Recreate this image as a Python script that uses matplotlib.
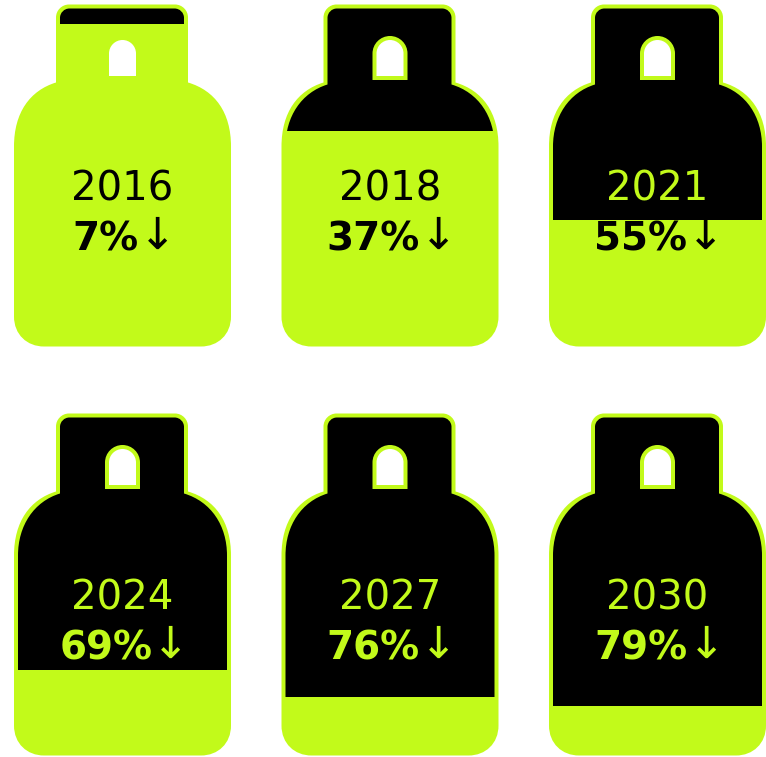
"""
Gas bottles filled with black down to a level, one bottle per year
"""
import matplotlib
matplotlib.use('Agg')
import matplotlib.pyplot as plt
from matplotlib.path import Path
from matplotlib.patches import PathPatch, Rectangle

LIME = '#c2fa1a'

years = ['2016', '2018', '2021', '2024', '2027', '2030']
percents = ['7%', '37%', '55%', '69%', '76%', '79%']
# how far down the bottle the black reaches (% of height)
black_levels = [5.6, 37.0, 63.0, 75.0, 83.0, 85.5]
year_colors = ['black', 'black', LIME, LIME, LIME, LIME]
pct_colors = ['black', 'black', 'black', LIME, LIME, LIME]


def bottle_path(ox, oy, inset=0.0):
    """Bottle outline, 217 x 342 px, top-left corner at ox, oy"""
    i = inset
    r = 13 - 0.9 * i  # neck corner
    k = 0.45 * r
    verts = [
        (42 + i + r, i), (174 - i - r, i),
        (174 - i - k, i), (174 - i, i + k), (174 - i, i + r),
        (174 - i, 78 + i / 2),
        (201 - i, 86 + i / 2), (217 - i, 108 + i), (217 - i, 142),
        (217 - i, 312),
        (217 - i, 330), (204, 342 - i), (187, 342 - i),
        (30, 342 - i),
        (13, 342 - i), (i, 330), (i, 312),
        (i, 142),
        (i, 108 + i), (16 + i, 86 + i / 2), (42 + i, 78 + i / 2),
        (42 + i, i + r),
        (42 + i, i + k), (42 + i + k, i), (42 + i + r, i),
    ]
    L, C = Path.LINETO, Path.CURVE4
    codes = [Path.MOVETO, L, C, C, C, L, C, C, C, L, C, C, C, L, C, C, C, L, C, C, C, L, C, C, C]
    return Path([(ox + x, oy + y) for x, y in verts], codes)


def hole_path(ox, oy, x0, x1, y0, y1):
    """Rectangle with a round top, the hole of the handle"""
    r = (x1 - x0) / 2
    k = 0.5523 * r
    verts = [
        (x0, y1), (x0, y0 + r),
        (x0, y0 + r - k), (x0 + r - k, y0), (x0 + r, y0),
        (x0 + r + k, y0), (x1, y0 + r - k), (x1, y0 + r),
        (x1, y1), (x0, y1),
    ]
    L, C = Path.LINETO, Path.CURVE4
    codes = [Path.MOVETO, L, C, C, C, C, C, C, L, Path.CLOSEPOLY]
    return Path([(ox + x, oy + y) for x, y in verts], codes)


fig = plt.figure(figsize=(7.66, 7.57), dpi=100)
ax = fig.add_axes([0, 0, 1, 1])
ax.set_xlim(0, 766)
ax.set_ylim(757, 0)
ax.axis('off')

col_x = [14, 281.5, 549]
row_y = [4.5, 413.5]

fig.canvas.draw()
renderer = fig.canvas.get_renderer()

for n, year in enumerate(years):
    ox = col_x[n % 3]
    oy = row_y[n // 3]
    cx = ox + 108.5

    ax.add_patch(PathPatch(bottle_path(ox, oy), fc=LIME, ec='none'))

    # black part, cut off at the level
    black = PathPatch(bottle_path(ox, oy, inset=4), fc='black', ec='none')
    ax.add_patch(black)
    clip = Rectangle((ox, oy), 217, 342 * black_levels[n] / 100, transform=ax.transData)
    black.set_clip_path(clip)

    # handle hole
    ax.add_patch(PathPatch(hole_path(ox, oy, 91, 126, 31.5, 75.5), fc=LIME, ec='none'))
    ax.add_patch(PathPatch(hole_path(ox, oy, 95, 122, 35.5, 71.5), fc='white', ec='none'))

    ax.text(cx, oy + 196, year, color=year_colors[n], fontsize=29,
            ha='center', va='baseline', family='DejaVu Sans')

    # percent and arrow are centered together, the arrow is not bold
    pct = ax.text(0, oy + 246, percents[n], color=pct_colors[n], fontsize=28,
                  fontweight='bold', ha='left', va='baseline', family='DejaVu Sans')
    arrow = ax.text(0, oy + 244, '↓', color=pct_colors[n], fontsize=32,
                    ha='left', va='baseline', family='DejaVu Sans')
    w_pct = pct.get_window_extent(renderer).width
    w_arrow = arrow.get_window_extent(renderer).width
    left = cx - (w_pct + w_arrow) / 2
    pct.set_x(left + 2)
    arrow.set_x(left + w_pct + 2)

fig.savefig('out.png', dpi=100, facecolor='white')
